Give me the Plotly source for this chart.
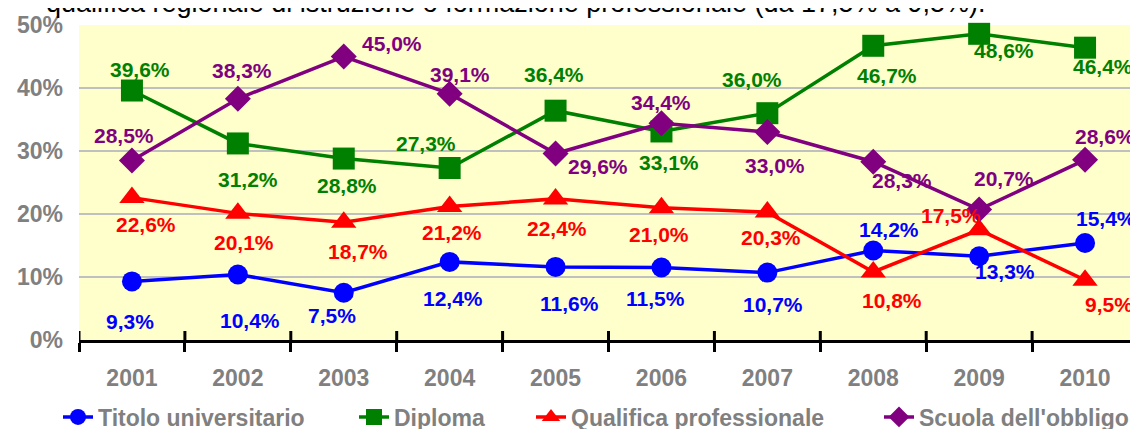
import plotly.graph_objects as go

years = ["2001", "2002", "2003", "2004", "2005", "2006", "2007", "2008", "2009", "2010"]
titolo = [9.3, 10.4, 7.5, 12.4, 11.6, 11.5, 10.7, 14.2, 13.3, 15.4]
diploma = [39.6, 31.2, 28.8, 27.3, 36.4, 33.1, 36.0, 46.7, 48.6, 46.4]
qualifica = [22.6, 20.1, 18.7, 21.2, 22.4, 21.0, 20.3, 10.8, 17.5, 9.5]
scuola = [28.5, 38.3, 45.0, 39.1, 29.6, 34.4, 33.0, 28.3, 20.7, 28.6]
series_names = ["Titolo universitario", "Diploma", "Qualifica professionale", "Scuola dell'obbligo"]
caption = "qualifica regionale di istruzione o formazione professionale (da 17,5% a 9,5%)."
y_ticks = [0, 10, 20, 30, 40, 50]

# label offsets in pixels (dx right, dy down) relative to each point
offsets = [
    [(-2, 40), (12, 46), (-12, 23), (3, 37), (14, 37), (-6, 31), (6, 32), (16, -21), (26, 15), (21, -24)],
    [(8, -21), (10, 36), (3, 27), (-24, -25), (-2, -36), (8, 31), (-15, -34), (14, 30), (25, 17), (18, 19)],
    [(14, 27), (6, 29), (14, 29), (2, 26), (1, 30), (-2, 27), (4, 25), (19, 29), (-28, -14), (24, 24)],
    [(-8, -25), (4, -28), (48, -13), (10, -19), (42, 13), (0, -21), (8, 33), (29, 19), (25, -31), (20, -23)],
]
# legend text start positions (px, page coordinates)
legend_text_x = [98, 394, 571, 919]

colors = ["#0000FF", "#008000", "#FF0000", "#800080"]
symbols = ["circle", "square", "triangle-up", "diamond"]
msizes = [20, 22, 22, 20]
FONT = "Arial, 'Liberation Sans', sans-serif"
GRAY = "#808080"

all_series = [titolo, diploma, qualifica, scuola]

# figure geometry (page body has an 8px margin)
W, H = 1130, 421
ML, MR, MT, MB = 71, 0, 17, 89
PW = W - ML - MR
PH = H - MT - MB
legend_ids = ["legend", "legend2", "legend3", "legend4"]

fig = go.Figure()
for name, vals, col, sym, ms, lid in zip(series_names, all_series, colors, symbols, msizes, legend_ids):
    fig.add_trace(go.Scatter(
        x=years, y=vals, name=name, mode="lines+markers",
        line=dict(color=col, width=3.5),
        marker=dict(symbol=sym, size=ms, color=col),
        cliponaxis=False, legend=lid,
    ))

annotations = []
for vals, col, offs in zip(all_series, colors, offsets):
    for i, (v, (dx, dy)) in enumerate(zip(vals, offs)):
        annotations.append(dict(
            x=i, y=v, xref="x", yref="y",
            text=f"{v:.1f}%".replace(".", ","),
            showarrow=False, xshift=dx, yshift=-dy,
            font=dict(family=FONT, size=21, color=col, weight="bold"),
        ))

annotations.append(dict(
    xref="paper", yref="paper", x=(44 - 79) / PW, y=1 + (MT + 5) / PH,
    xanchor="left", yanchor="middle", showarrow=False, text=caption,
    font=dict(family=FONT, size=27, color="black"),
))

legends = {}
for lid, tx in zip(legend_ids, legend_text_x):
    legends[lid] = dict(
        orientation="h", x=(tx - 8 - 40 - ML) / PW, xanchor="left",
        y=-(409 - (H - MB)) / PH, yanchor="middle",
        font=dict(family=FONT, size=23, color=GRAY, weight="bold"),
        bgcolor="rgba(0,0,0,0)", itemwidth=30,
    )

# upward halves of the crossing tick marks on the category axis
shapes = [
    dict(type="line", xref="x", yref="y", x0=i - 0.5, x1=i - 0.5,
         ysizemode="pixel", yanchor=0, y0=0, y1=9,
         line=dict(color="black", width=3), layer="above")
    for i in range(len(years) + 1)
]

fig.update_layout(
    width=W, height=H,
    margin=dict(l=ML, r=MR, t=MT, b=MB, autoexpand=False),
    paper_bgcolor="white", plot_bgcolor="#FFFFCC",
    annotations=annotations,
    shapes=shapes,
    showlegend=True,
    **legends,
    xaxis=dict(
        type="category", range=[-0.5, 9.5],
        showline=True, linecolor="black", linewidth=3,
        ticks="outside", tickson="boundaries", ticklen=9, tickwidth=3, tickcolor="black",
        tickfont=dict(family=FONT, size=23, color=GRAY, weight="bold"),
        ticklabelstandoff=15, showgrid=False, zeroline=False,
    ),
    yaxis=dict(
        range=[0, 50], tickvals=y_ticks, ticktext=[f"{v}%" for v in y_ticks],
        showgrid=True, gridcolor="#C0C0C0", gridwidth=2,
        showline=False, zeroline=False, ticks="",
        tickfont=dict(family=FONT, size=23, color=GRAY, weight="bold"),
        ticklabelstandoff=15,
    ),
)

fig.write_html("out.html")
